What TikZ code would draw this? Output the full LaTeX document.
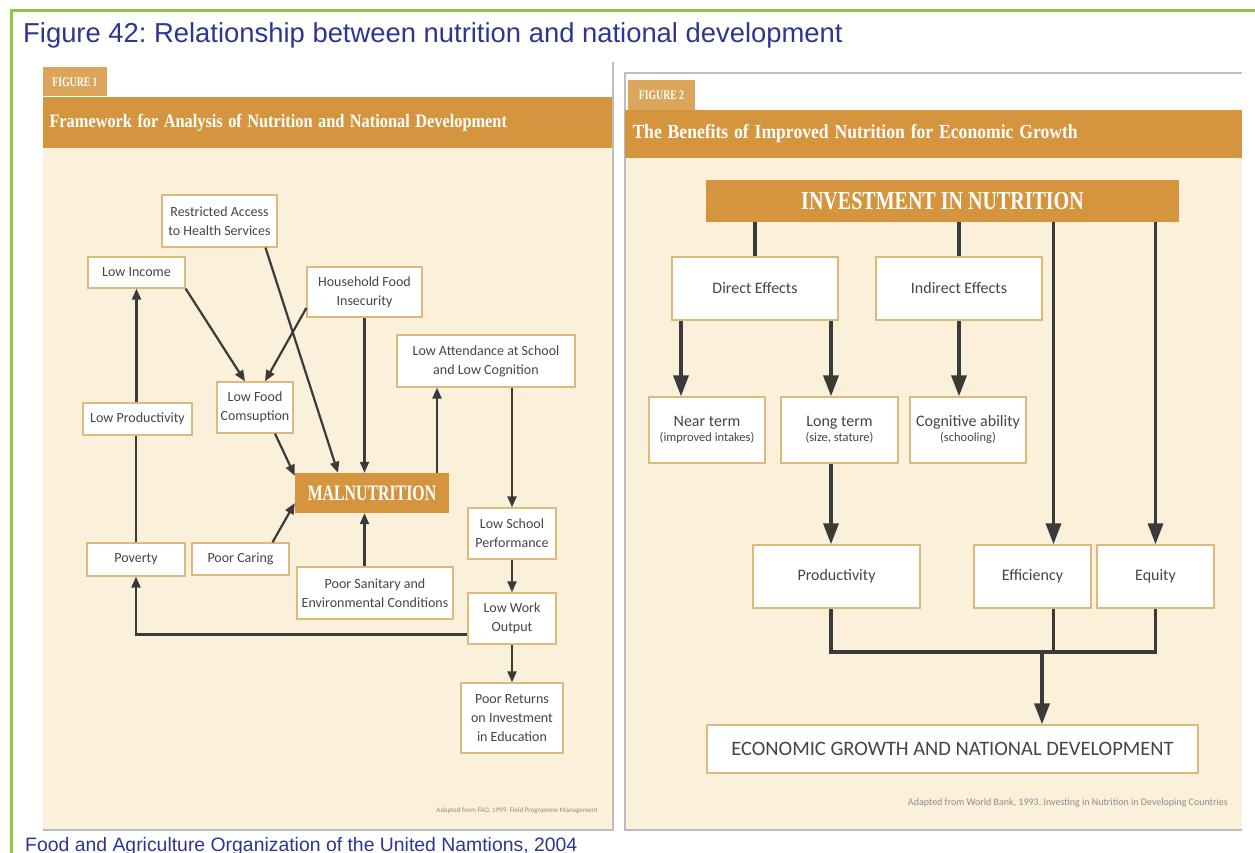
\documentclass[tikz,border=0pt]{standalone}
\usepackage{fontspec}
\usepackage{graphicx}
\setmainfont{Liberation Sans}
\newfontfamily\boxfont{Carlito}
\newfontfamily\serfont{Liberation Serif}
\usetikzlibrary{arrows.meta, calc}
\frenchspacing

\definecolor{verde}{HTML}{8DC63F}
\definecolor{azul}{HTML}{2E3592}
\definecolor{naranja}{HTML}{D5953F}
\definecolor{crema}{HTML}{FBF1DA}
\definecolor{borde}{HTML}{DCBA7E}
\definecolor{tinta}{HTML}{454545}
\definecolor{flecha}{HTML}{3A3A3A}
\definecolor{sombra}{HTML}{BDBDBD}

\newcommand{\estrecho}[2]{\scalebox{#1}[1]{#2}}

\tikzset{
  caja/.style={draw=borde, fill=white, line width=1.3pt, inner sep=0pt, align=center, text=tinta,
    font=\boxfont\fontsize{14}{19}\selectfont},
  cajaR/.style={caja, font=\boxfont\fontsize{16}{18}\selectfont},
  barra/.style={fill=naranja, inner sep=0pt, text=white, font=\serfont\bfseries},
  lineaL/.style={draw=flecha, line width=2.2pt},
  flechaL/.style={lineaL, -{Triangle[length=11pt,width=9pt]}},
  lineaR/.style={draw=flecha, line width=3.5pt},
  flechaR/.style={lineaR, -{Triangle[length=21pt,width=15pt]}},
}

\begin{document}
\begin{tikzpicture}[x=1pt, y=-1pt]
  \useasboundingbox (0,0) rectangle (1255,853);
  % marco verde y textos de la figura
  \draw[verde, line width=3pt] (1255,11) -- (11,11) -- (11,853);
  \node[anchor=base west, inner sep=0pt, text=azul, font=\fontsize{27.4}{30}\selectfont] (titulo) at (23,43)
    {Figure 42: Relationship between nutrition and national development};
  \node[anchor=base west, inner sep=0pt, text=azul, font=\fontsize{19.4}{22}\selectfont] (fuente) at (25,851)
    {Food and Agriculture Organization of the United Namtions, 2004};

  % panel izquierdo
  \fill[crema] (43,148) rectangle (613,830);
  \draw[sombra, line width=1.5pt] (613,62) -- (613,830) -- (43,830);
  \node[fill=naranja!85!white, minimum width=64pt, minimum height=29pt, inner sep=0pt, text=white,
    font=\serfont\bfseries\fontsize{13}{14}\selectfont] (tab1) at (75,82) {\estrecho{0.75}{FIGURE 1}};
  \node[barra, minimum width=569pt, minimum height=51pt, text width=556pt, align=left,
    font=\serfont\bfseries\fontsize{19}{21}\selectfont] (cab1) at (327.5,122.5)
    {\estrecho{0.86}{Framework for Analysis of Nutrition and National Development}};

  \node[caja, minimum width=115pt, minimum height=52pt] (acceso) at (219.5,221) {Restricted Access\\to Health Services};
  \node[caja, minimum width=97pt, minimum height=31pt] (bajoing) at (136.5,272.5) {Low Income};
  \node[caja, minimum width=115pt, minimum height=50pt] (inseg) at (364.5,292) {Household Food\\Insecurity};
  \node[caja, minimum width=178pt, minimum height=52pt] (asist) at (486,361) {Low Attendance at School\\and Low Cognition};
  \node[caja, minimum width=76pt, minimum height=51pt] (bajoalim) at (255,407.5) {Low Food\\Comsuption};
  \node[caja, minimum width=109pt, minimum height=32pt] (prodbaja) at (137.5,419) {Low Productivity};
  \node[barra, minimum width=154pt, minimum height=40pt, font=\serfont\bfseries\fontsize{22}{24}\selectfont] (maln)
    at (372,493) {\estrecho{0.72}{MALNUTRITION}};
  \node[caja, minimum width=88pt, minimum height=51pt] (rend) at (512,533.5) {Low School\\Performance};
  \node[caja, minimum width=98pt, minimum height=33pt] (pobreza) at (136,559.5) {Poverty};
  \node[caja, minimum width=97pt, minimum height=32pt] (cuidado) at (240.5,559) {Poor Caring};
  \node[caja, minimum width=156pt, minimum height=52pt] (saneam) at (375,593) {Poor Sanitary and\\Environmental Conditions};
  \node[caja, minimum width=88pt, minimum height=51pt] (trabajo) at (512,618.5) {Low Work\\Output};
  \node[caja, minimum width=102pt, minimum height=70pt] (retorno) at (512,718) {Poor Returns\\on Investment\\in Education};
  \node[anchor=base east, inner sep=0pt, text=black!45, font=\boxfont\fontsize{7}{8}\selectfont] (nota1) at (598,812)
    {Adapted from FAO, 1999. Field Programme Management};

  % flechas del panel izquierdo
  \draw[flechaL] (bajoing.south east) -- ([xshift=-10pt]bajoalim.north);
  \draw[flechaL] ([yshift=-16pt]inseg.west) -- ([xshift=10pt]bajoalim.north);
  \draw[flechaL] ([xshift=46pt]acceso.south) -- ([xshift=-34pt]maln.north);
  \draw[flechaL] (inseg.south) -- (inseg.south |- maln.north);
  \draw[flechaL] ([xshift=65pt]maln.north) -- ([xshift=65pt]maln.north |- asist.south);
  \draw[flechaL] (rend.north |- asist.south) -- (rend.north);
  \draw[flechaL] (rend.south) -- (trabajo.north);
  \draw[flechaL] (trabajo.south) -- (retorno.north);
  \draw[flechaL] ([yshift=-16pt]trabajo.west) -| (pobreza.south);
  \draw[lineaL] (pobreza.north) -- (pobreza.north |- prodbaja.south);
  \draw[flechaL] (bajoing.south |- prodbaja.north) -- (bajoing.south);
  \draw[flechaL] ([xshift=20pt]bajoalim.south) -- ([yshift=-3pt]maln.north west);
  \draw[flechaL] ([xshift=32pt]cuidado.north) -- ([yshift=-10pt]maln.west);
  \draw[flechaL] (inseg.south |- saneam.north) -- (inseg.south |- maln.south);

  % panel derecho
  \fill[crema] (625,158) rectangle (1242,830);
  \draw[sombra, line width=1.5pt] (1242,73) -- (625,73) -- (625,830) -- (1242,830);
  \node[fill=naranja!85!white, minimum width=67pt, minimum height=30pt, inner sep=0pt, text=white,
    font=\serfont\bfseries\fontsize{13}{14}\selectfont] (tab2) at (661.5,95) {\estrecho{0.75}{FIGURE 2}};
  \node[barra, minimum width=617pt, minimum height=48pt, text width=602pt, align=left,
    font=\serfont\bfseries\fontsize{20}{22}\selectfont] (cab2) at (933.5,134)
    {\estrecho{0.88}{The Benefits of Improved Nutrition for Economic Growth}};

  \node[barra, minimum width=473pt, minimum height=42pt, font=\serfont\bfseries\fontsize{26}{28}\selectfont] (inv)
    at (942.5,201) {\estrecho{0.77}{INVESTMENT IN NUTRITION}};
  \node[cajaR, minimum width=166pt, minimum height=63pt] (directo) at (755,288.5) {Direct Effects};
  \node[cajaR, minimum width=166pt, minimum height=63pt] (indirecto) at (959,288.5) {Indirect Effects};
  \node[cajaR, minimum width=116pt, minimum height=66pt] (corto) at (707,430)
    {Near term\\[-3pt]{\fontsize{12.5}{13}\selectfont(improved intakes)}};
  \node[cajaR, minimum width=117pt, minimum height=66pt] (largo) at (839.5,430)
    {Long term\\[-3pt]{\fontsize{12.5}{13}\selectfont(size, stature)}};
  \node[cajaR, minimum width=116pt, minimum height=66pt] (cogn) at (968,430)
    {Cognitive ability\\[-3pt]{\fontsize{12.5}{13}\selectfont(schooling)}};
  \node[cajaR, minimum width=167pt, minimum height=63pt] (prod) at (836.5,576.5) {Productivity};
  \node[cajaR, minimum width=117pt, minimum height=63pt] (efic) at (1032.5,576.5) {Efficiency};
  \node[cajaR, minimum width=117pt, minimum height=63pt] (equi) at (1155.5,576.5) {Equity};
  \node[caja, minimum width=491pt, minimum height=48pt, font=\boxfont\fontsize{20.5}{22}\selectfont] (econ)
    at (952.5,749) {ECONOMIC GROWTH AND NATIONAL DEVELOPMENT};
  \node[anchor=base east, inner sep=0pt, text=black!45, font=\boxfont\fontsize{10}{11}\selectfont] (nota2) at (1228,805)
    {Adapted from World Bank, 1993. Investing in Nutrition in Developing Countries};

  % flechas del panel derecho
  \coordinate (junta) at (1042,652);
  \draw[lineaR] (directo.north |- inv.south) -- (directo.north);
  \draw[lineaR] (indirecto.north |- inv.south) -- (indirecto.north);
  \draw[flechaR] ([xshift=21pt]efic.north |- inv.south) -- ([xshift=21pt]efic.north);
  \draw[flechaR] (equi.north |- inv.south) -- (equi.north);
  \draw[flechaR] ([xshift=-74pt]directo.south) -- ([xshift=-74pt]directo.south |- corto.north);
  \draw[flechaR] ([xshift=76pt]directo.south) -- ([xshift=76pt]directo.south |- largo.north);
  \draw[flechaR] (indirecto.south) -- (indirecto.south |- cogn.north);
  \draw[flechaR] ([xshift=-8.5pt]largo.south) -- ([xshift=-8.5pt]largo.south |- prod.north);
  \draw[lineaR] ([xshift=-5.5pt]prod.south) |- (equi.south |- junta) -- (equi.south);
  \draw[lineaR] ([xshift=21pt]efic.south) -- ([xshift=21pt]efic.south |- junta);
  \draw[flechaR] (junta) -- (junta |- econ.north);
\end{tikzpicture}
\end{document}
